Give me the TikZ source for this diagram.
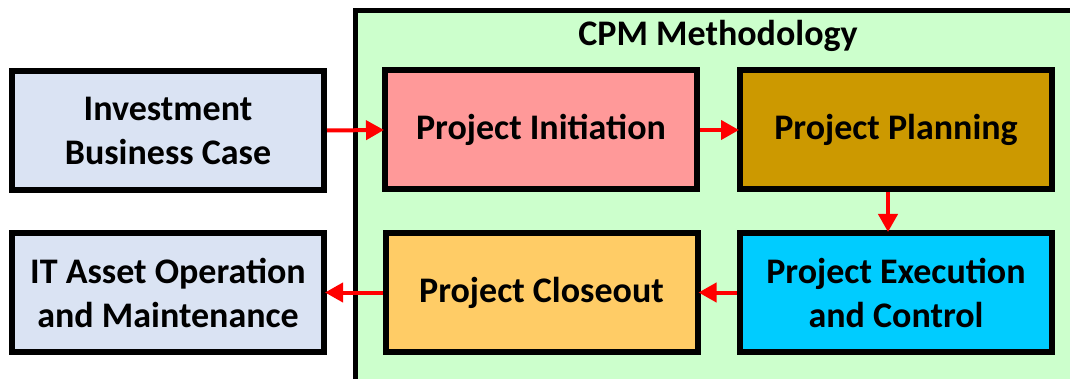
\documentclass[tikz,border=0pt]{standalone}
\usepackage{fontspec}
\setmainfont{Carlito}
\usetikzlibrary{arrows.meta}
\definecolor{caseblue}{HTML}{DAE3F3}
\definecolor{cpmgreen}{HTML}{CCFFCC}
\definecolor{initpink}{HTML}{FF9999}
\definecolor{plangold}{HTML}{CC9900}
\definecolor{execcyan}{HTML}{00CCFF}
\definecolor{closeorange}{HTML}{FFCC66}
\tikzset{
  phase/.style={draw=black, line width=6pt, minimum width=312pt, minimum height=119pt,
    align=center, inner sep=0pt, font=\fontsize{36}{44}\selectfont\bfseries},
  flow/.style={draw=red, line width=4pt, -{Triangle[length=18pt,width=19pt]}, shorten >=-2pt}
}
\begin{document}
\begin{tikzpicture}[x=1pt,y=-1pt]
  \useasboundingbox (0,0) rectangle (1070,379);
  % methodology frame
  \filldraw[fill=cpmgreen, draw=black, line width=5pt] (355,11) rectangle (1085,381);
  \node[font=\fontsize{36}{44}\selectfont\bfseries] (title) at (718,36) {CPM Methodology};
  % phases
  \node[phase, fill=caseblue] (case) at (168,130.5) {Investment\\Business Case};
  \node[phase, fill=initpink] (init) at (541,130) {Project Initiation};
  \node[phase, fill=plangold] (plan) at (896,130) {Project Planning};
  \node[phase, fill=execcyan] (exec) at (896,292.5) {Project Execution\\and Control};
  \node[phase, fill=closeorange] (close) at (541.5,292.5) {Project Closeout};
  \node[phase, fill=caseblue] (ops) at (168,292.5) {IT Asset Operation\\and Maintenance};
  % transitions
  \draw[flow] (case.east) -- (init.west);
  \draw[flow] (init.east) -- (plan.west);
  \draw[flow] ([xshift=-8pt]plan.south) -- ([xshift=-8pt]exec.north);
  \draw[flow] (exec.west) -- (close.east);
  \draw[flow] (close.west) -- (ops.east);
\end{tikzpicture}
\end{document}
